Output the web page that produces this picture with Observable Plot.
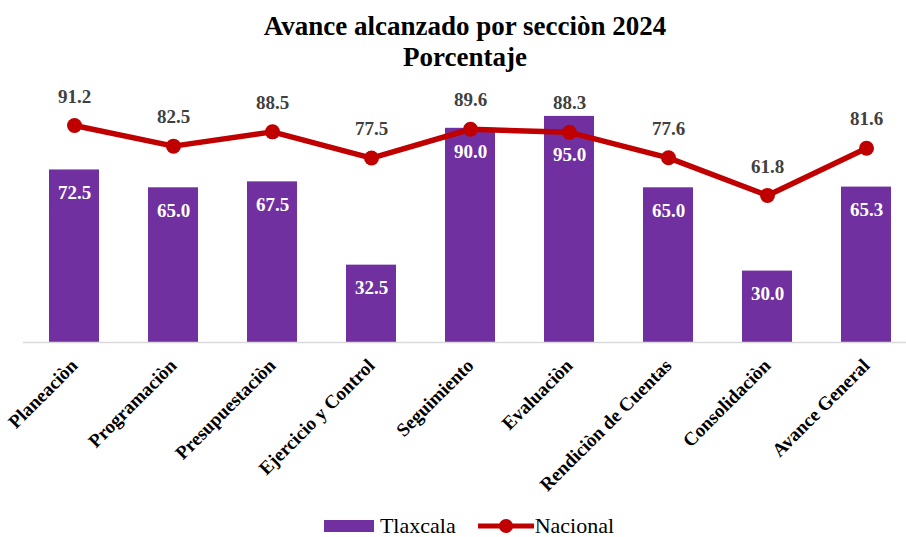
<!DOCTYPE html>
<html>
<head>
<meta charset="utf-8">
<script src="https://cdn.jsdelivr.net/npm/d3@7"></script>
<script src="https://cdn.jsdelivr.net/npm/@observablehq/plot@0.6"></script>
<style>
  body { margin: 0; background: #fff; width: 906px; overflow: hidden; font-family: "Liberation Serif", "Times New Roman", serif; }
  #title { text-align: center; font-weight: bold; font-size: 27px; line-height: 31px; padding-top: 11px; padding-left: 24px; color: #000; }
  #chart svg { display: block; }
  #legend { display: flex; justify-content: center; align-items: center; gap: 22px; font-size: 22px; padding-left: 32px; height: 30px; margin-top: 8px; color: #000; }
  .item { display: flex; align-items: center; gap: 6px; }
</style>
</head>
<body>
<div id="title">Avance alcanzado por secciòn 2024<br>Porcentaje</div>
<div id="chart"></div>
<div id="legend">
  <div class="item"><svg width="50" height="14"><rect x="0" y="1" width="50" height="12" fill="#7030a0"></rect></svg><span>Tlaxcala</span></div>
  <div class="item"><svg width="56" height="16"><line x1="0" y1="8" x2="56" y2="8" stroke="#c00000" stroke-width="5"></line><circle cx="28" cy="8" r="7" fill="#c00000"></circle></svg><span style="margin-left:-5px">Nacional</span></div>
</div>
<script>
const categories = ["Planeaciòn", "Programaciòn", "Presupuestaciòn", "Ejercicio y Control", "Seguimiento", "Evaluaciòn", "Rendiciòn de Cuentas", "Consolidaciòn", "Avance General"];
const tlaxcala = [72.5, 65.0, 67.5, 32.5, 90.0, 95.0, 65.0, 30.0, 65.3];
const nacional = [91.2, 82.5, 88.5, 77.5, 89.6, 88.3, 77.6, 61.8, 81.6];

const data = categories.map((c, i) => ({cat: c, t: tlaxcala[i], n: nacional[i]}));

const chart = Plot.plot({
  width: 906,
  height: 430,
  marginTop: 31,
  marginBottom: 161,
  marginLeft: 23,
  marginRight: 0,
  style: {fontFamily: "Liberation Serif, Times New Roman, serif", background: "#fff"},
  x: {domain: categories, range: [23.5, 915.5], paddingInner: 0.5, paddingOuter: 0.25, label: null},
  y: {domain: [0, 100], axis: null},
  marks: [
    Plot.barY(data, {x: "cat", y: "t", fill: "#7030a0"}),
    Plot.ruleY([0], {stroke: "#d9d9d9", strokeWidth: 1.5}),
    Plot.line(data, {x: "cat", y: "n", stroke: "#c00000", strokeWidth: 5.5}),
    Plot.dot(data, {x: "cat", y: "n", r: 7.5, fill: "#c00000"}),
    Plot.text(data, {x: "cat", y: d => Math.min(d.t, d.n), text: d => d.t.toFixed(1), dy: 23, fill: "#fff", fontSize: 19, fontWeight: "bold"}),
    Plot.text(data, {x: "cat", y: "n", text: d => d.n.toFixed(1), dy: -29, fill: "#404040", fontSize: 19, fontWeight: "bold"}),
    Plot.axisX({tickRotate: -45, tickSize: 0, tickPadding: 20, fontSize: 19, fontWeight: "bold", fill: "#000", label: null})
  ]
});
document.getElementById("chart").appendChild(chart);
</script>
</body>
</html>
